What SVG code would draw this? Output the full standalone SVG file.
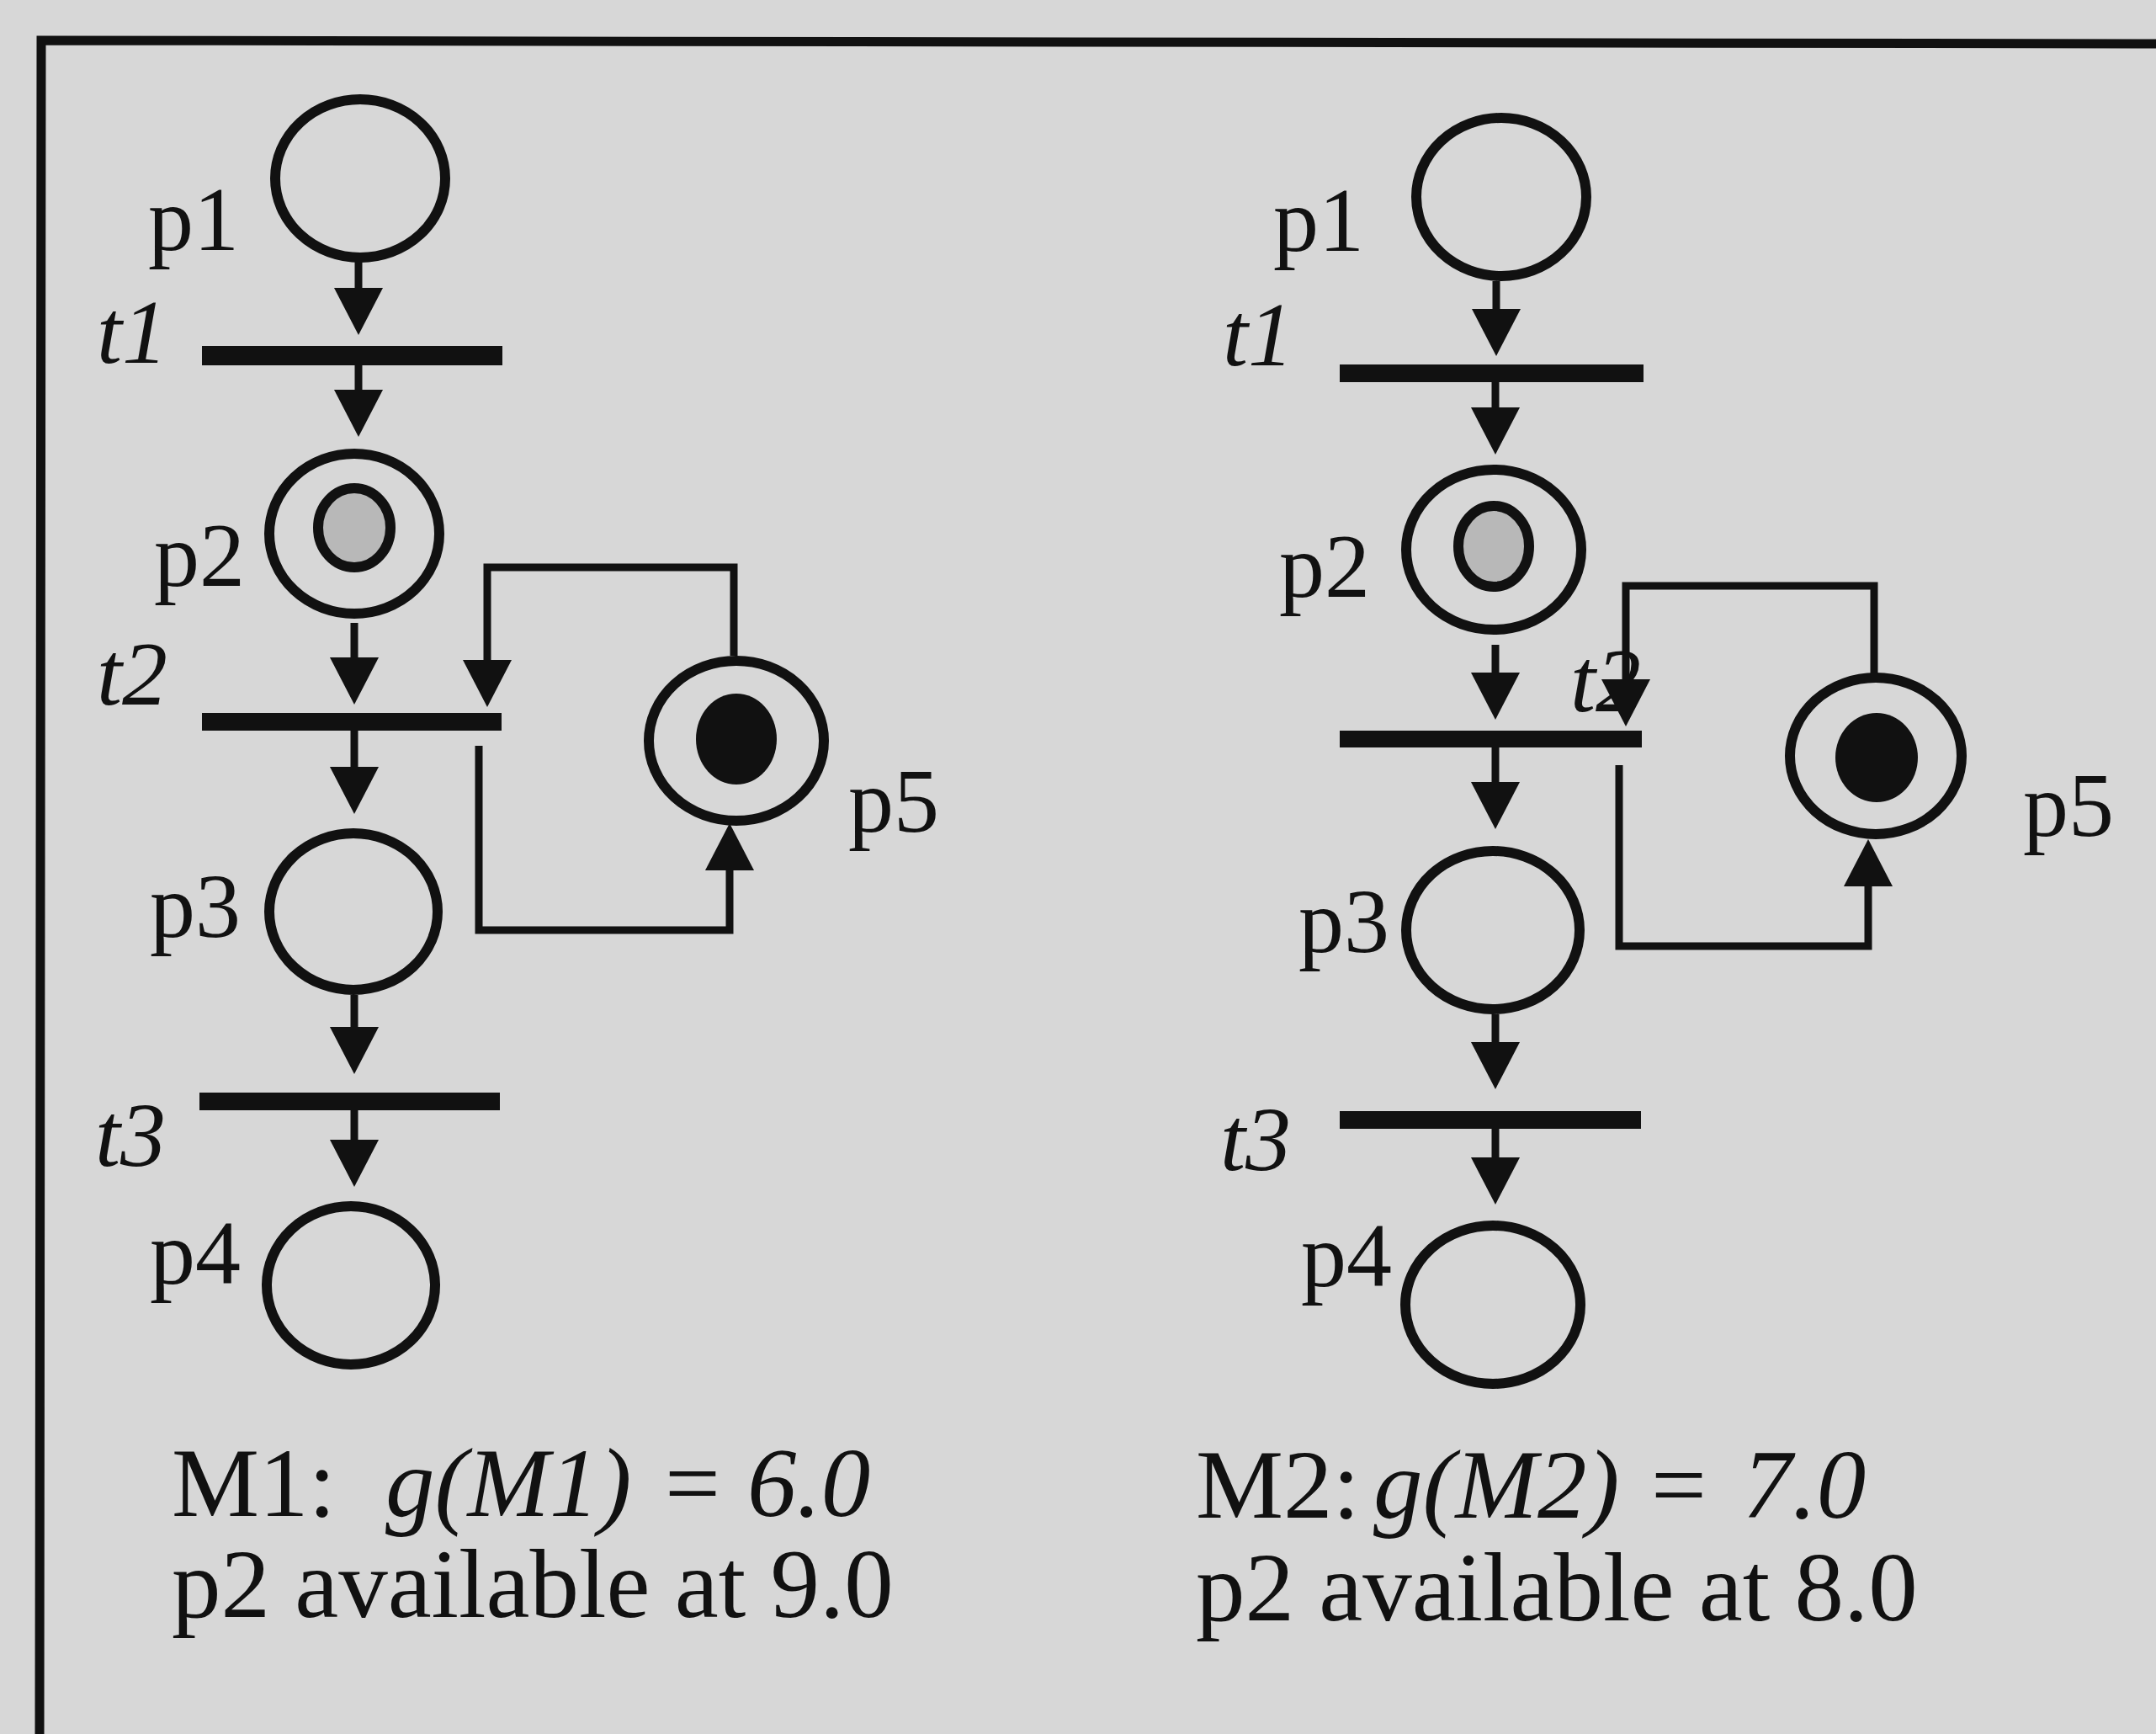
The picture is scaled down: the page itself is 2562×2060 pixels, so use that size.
<svg xmlns="http://www.w3.org/2000/svg" width="2562" height="2060" viewBox="0 0 2562 2060">
<style>
.pl{fill:none;stroke:#111;stroke-width:12}
.tok{fill:#b8b8b8;stroke:#111;stroke-width:12}
.dot{fill:#111}
.bar{fill:#111}
.arc{fill:none;stroke:#111;stroke-width:9;marker-end:url(#ah)}
.lbl{font-family:"Liberation Serif","Times New Roman",serif;font-size:108px;fill:#111}
.it{font-style:italic}
.cap{font-family:"Liberation Serif","Times New Roman",serif;font-size:117px;fill:#111}
</style>
<defs>
<marker id="ah" markerUnits="userSpaceOnUse" markerWidth="60" markerHeight="60" refX="0" refY="29" orient="auto" overflow="visible">
<path d="M0,0 L56,29 L0,58 Z" fill="#111"/>
</marker>
</defs>
<rect width="2562" height="2060" fill="#d7d7d7"/>
<path d="M47,2060 L49,48 L2562,52" fill="none" stroke="#111" stroke-width="11"/>

<!-- Left net -->
<g id="L-p1"><ellipse class="pl" cx="428" cy="212" rx="101" ry="94"/><text class="lbl" x="284" y="297" text-anchor="end">p1</text></g>
<g id="L-t1"><rect class="bar" x="240" y="411" width="357" height="23"/><text class="lbl it" x="115" y="431">t1</text></g>
<g id="L-p2"><ellipse class="pl" cx="421" cy="634" rx="101" ry="95"/><ellipse class="tok" cx="421" cy="627" rx="43" ry="47"/><text class="lbl" x="291" y="696" text-anchor="end">p2</text></g>
<g id="L-t2"><rect class="bar" x="240" y="847" width="356" height="21"/><text class="lbl it" x="115" y="837">t2</text></g>
<g id="L-p3"><ellipse class="pl" cx="420" cy="1083" rx="100" ry="93"/><text class="lbl" x="286" y="1113" text-anchor="end">p3</text></g>
<g id="L-t3"><rect class="bar" x="237" y="1298" width="357" height="21"/><text class="lbl it" x="113" y="1385">t3</text></g>
<g id="L-p4"><ellipse class="pl" cx="417" cy="1527" rx="100" ry="94"/><text class="lbl" x="286" y="1525" text-anchor="end">p4</text></g>
<g id="L-p5"><ellipse class="pl" cx="875" cy="880" rx="104" ry="95"/><ellipse class="dot" cx="875" cy="878" rx="48" ry="54"/><text class="lbl" x="1008" y="988">p5</text></g>
<g id="L-caption">
<text class="cap" x="204" y="1801">M1:<tspan class="it" x="458">g(M1)</tspan><tspan x="790">=</tspan><tspan class="it" x="888">6.0</tspan></text>
<text class="cap" x="204" y="1921">p2 available at 9.0</text>
</g>

<!-- Right net -->
<g id="R-p1"><ellipse class="pl" cx="1784" cy="234" rx="101" ry="94"/><text class="lbl" x="1621" y="298" text-anchor="end">p1</text></g>
<g id="R-t1"><rect class="bar" x="1592" y="433" width="361" height="21"/><text class="lbl it" x="1453" y="434">t1</text></g>
<g id="R-p2"><ellipse class="pl" cx="1775" cy="653" rx="104" ry="95"/><ellipse class="tok" cx="1775" cy="649" rx="42" ry="48"/><text class="lbl" x="1628" y="709" text-anchor="end">p2</text></g>
<g id="R-t2"><rect class="bar" x="1592" y="868" width="359" height="20"/><text class="lbl it" x="1866" y="845">t2</text></g>
<g id="R-p3"><ellipse class="pl" cx="1774" cy="1105" rx="103" ry="94"/><text class="lbl" x="1651" y="1131" text-anchor="end">p3</text></g>
<g id="R-t3"><rect class="bar" x="1592" y="1320" width="358" height="21"/><text class="lbl it" x="1450" y="1390">t3</text></g>
<g id="R-p4"><ellipse class="pl" cx="1774" cy="1550" rx="104" ry="94"/><text class="lbl" x="1654" y="1528" text-anchor="end">p4</text></g>
<g id="R-p5"><ellipse class="pl" cx="2229" cy="898" rx="102" ry="93"/><ellipse class="dot" cx="2230" cy="900" rx="49" ry="53"/><text class="lbl" x="2404" y="993">p5</text></g>
<g id="R-caption">
<text class="cap" x="1421" y="1803">M2:<tspan class="it" x="1632">g(M2)</tspan><tspan x="1962">=</tspan><tspan class="it" x="2071">7.0</tspan></text>
<text class="cap" x="1421" y="1925">p2 available at 8.0</text>
</g>

<g id="connectors">
<path class="arc" d="M426,311 V342"/>
<path class="arc" d="M426,434 V463"/>
<path class="arc" d="M421,740 V781"/>
<path class="arc" d="M421,868 V911"/>
<path class="arc" d="M421,1182 V1220"/>
<path class="arc" d="M421,1319 V1354"/>
<path class="arc" d="M872,779 V674 H579 V784"/>
<path class="arc" d="M569,886 V1105 H867 V1034"/>

<path class="arc" d="M1778,334 V367"/>
<path class="arc" d="M1777,454 V484"/>
<path class="arc" d="M1777,766 V799"/>
<path class="arc" d="M1777,888 V929"/>
<path class="arc" d="M1777,1205 V1238"/>
<path class="arc" d="M1777,1341 V1375"/>
<path class="arc" d="M2227,802 V696 H1932 V807"/>
<path class="arc" d="M1924,909 V1124 H2220 V1053"/>
</g>
</svg>
